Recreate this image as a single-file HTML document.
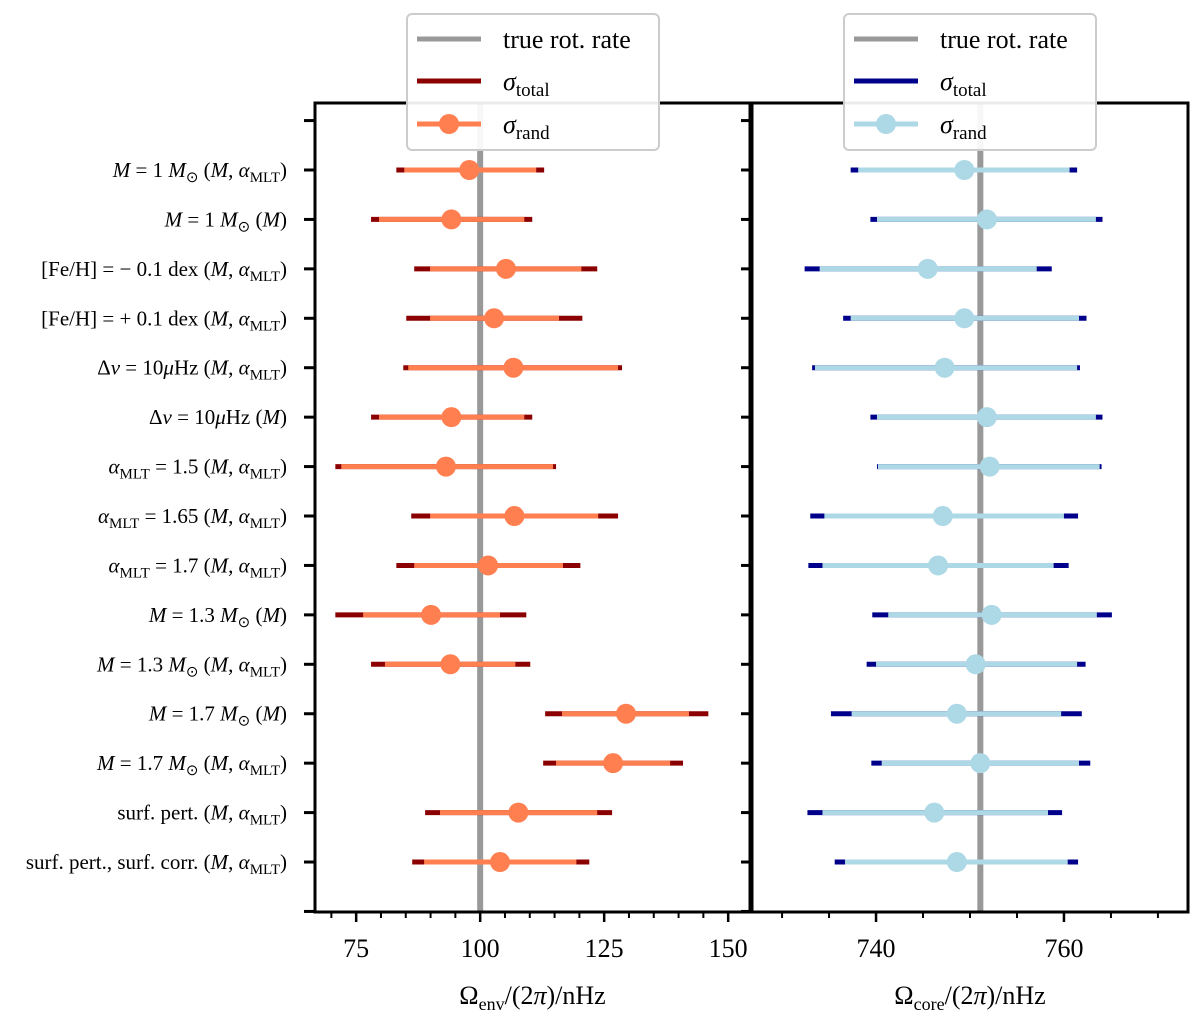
<!DOCTYPE html>
<html><head><meta charset="utf-8"><style>
body{margin:0;background:#fff}
svg text{font-family:"Liberation Serif",serif;fill:#000}
</style></head><body>
<svg id="c" width="1200" height="1021" xmlns="http://www.w3.org/2000/svg"></svg>
<script>
const labels=[
 ['<tspan font-style="italic">M</tspan> = 1 <tspan font-style="italic">M</tspan><tspan font-size="15" dy="5">⊙</tspan><tspan dy="-5"> (</tspan><tspan font-style="italic">M</tspan>, <tspan font-style="italic">α</tspan><tspan font-size="15" dy="5">MLT</tspan><tspan dy="-5">)</tspan>'],
 ['<tspan font-style="italic">M</tspan> = 1 <tspan font-style="italic">M</tspan><tspan font-size="15" dy="5">⊙</tspan><tspan dy="-5"> (</tspan><tspan font-style="italic">M</tspan>)'],
 ['[Fe/H] = − 0.1 dex (<tspan font-style="italic">M</tspan>, <tspan font-style="italic">α</tspan><tspan font-size="15" dy="5">MLT</tspan><tspan dy="-5">)</tspan>'],
 ['[Fe/H] = + 0.1 dex (<tspan font-style="italic">M</tspan>, <tspan font-style="italic">α</tspan><tspan font-size="15" dy="5">MLT</tspan><tspan dy="-5">)</tspan>'],
 ['Δ<tspan font-style="italic">ν</tspan> = 10<tspan font-style="italic">μ</tspan>Hz (<tspan font-style="italic">M</tspan>, <tspan font-style="italic">α</tspan><tspan font-size="15" dy="5">MLT</tspan><tspan dy="-5">)</tspan>'],
 ['Δ<tspan font-style="italic">ν</tspan> = 10<tspan font-style="italic">μ</tspan>Hz (<tspan font-style="italic">M</tspan>)'],
 ['<tspan font-style="italic">α</tspan><tspan font-size="15" dy="5">MLT</tspan><tspan dy="-5"> = 1.5 (</tspan><tspan font-style="italic">M</tspan>, <tspan font-style="italic">α</tspan><tspan font-size="15" dy="5">MLT</tspan><tspan dy="-5">)</tspan>'],
 ['<tspan font-style="italic">α</tspan><tspan font-size="15" dy="5">MLT</tspan><tspan dy="-5"> = 1.65 (</tspan><tspan font-style="italic">M</tspan>, <tspan font-style="italic">α</tspan><tspan font-size="15" dy="5">MLT</tspan><tspan dy="-5">)</tspan>'],
 ['<tspan font-style="italic">α</tspan><tspan font-size="15" dy="5">MLT</tspan><tspan dy="-5"> = 1.7 (</tspan><tspan font-style="italic">M</tspan>, <tspan font-style="italic">α</tspan><tspan font-size="15" dy="5">MLT</tspan><tspan dy="-5">)</tspan>'],
 ['<tspan font-style="italic">M</tspan> = 1.3 <tspan font-style="italic">M</tspan><tspan font-size="15" dy="5">⊙</tspan><tspan dy="-5"> (</tspan><tspan font-style="italic">M</tspan>)'],
 ['<tspan font-style="italic">M</tspan> = 1.3 <tspan font-style="italic">M</tspan><tspan font-size="15" dy="5">⊙</tspan><tspan dy="-5"> (</tspan><tspan font-style="italic">M</tspan>, <tspan font-style="italic">α</tspan><tspan font-size="15" dy="5">MLT</tspan><tspan dy="-5">)</tspan>'],
 ['<tspan font-style="italic">M</tspan> = 1.7 <tspan font-style="italic">M</tspan><tspan font-size="15" dy="5">⊙</tspan><tspan dy="-5"> (</tspan><tspan font-style="italic">M</tspan>)'],
 ['<tspan font-style="italic">M</tspan> = 1.7 <tspan font-style="italic">M</tspan><tspan font-size="15" dy="5">⊙</tspan><tspan dy="-5"> (</tspan><tspan font-style="italic">M</tspan>, <tspan font-style="italic">α</tspan><tspan font-size="15" dy="5">MLT</tspan><tspan dy="-5">)</tspan>'],
 ['surf. pert. (<tspan font-style="italic">M</tspan>, <tspan font-style="italic">α</tspan><tspan font-size="15" dy="5">MLT</tspan><tspan dy="-5">)</tspan>'],
 ['surf. pert., surf. corr. (<tspan font-style="italic">M</tspan>, <tspan font-style="italic">α</tspan><tspan font-size="15" dy="5">MLT</tspan><tspan dy="-5">)</tspan>']
];
const envCenter=[97.8,94.2,105.2,102.8,106.7,94.2,93.1,106.9,101.6,90.1,94.0,129.4,126.8,107.7,104.0];
const envTotLo=[83.1,78.0,86.7,85.1,84.5,78.0,70.8,86.1,83.1,70.8,78.0,113.1,112.7,88.9,86.3];
const envTotHi=[112.9,110.5,123.6,120.6,128.6,110.5,115.3,127.8,120.2,109.3,110.1,146.0,140.9,126.6,122.0];
const envRandLo=[84.7,79.6,89.9,89.9,85.5,79.6,72.0,89.9,86.7,76.4,80.8,116.5,115.3,91.9,88.7];
const envRandHi=[111.3,108.9,120.4,115.9,127.8,108.9,114.7,123.8,116.7,104.0,107.1,142.1,138.3,123.6,119.4];
const coreCenter=[749.4,751.8,745.5,749.4,747.3,751.8,752.1,747.1,746.6,752.3,750.6,748.6,751.1,746.2,748.6];
const coreTotLo=[737.3,739.4,732.4,736.5,733.2,739.4,740.1,733.0,732.8,739.6,739.0,735.2,739.5,732.7,735.6];
const coreTotHi=[761.4,764.1,758.7,762.4,761.7,764.1,764.0,761.5,760.5,765.1,762.3,761.9,762.8,759.8,761.5];
const coreRandLo=[738.1,740.1,734.0,737.3,733.5,740.1,740.2,734.5,734.3,741.3,740.0,737.4,740.6,734.3,736.7];
const coreRandHi=[760.6,763.4,757.1,761.6,761.4,763.4,763.8,760.0,758.9,763.5,761.4,759.7,761.6,758.3,760.4];
const envTicks=[75,100,125,150];
const coreTicks=[740,760];
const envTrue=100, coreTrue=751.1;

const svg=document.getElementById('c');
const NS='http://www.w3.org/2000/svg';
function el(tag,attrs,parent){const e=document.createElementNS(NS,tag);for(const k in attrs)e.setAttribute(k,attrs[k]);(parent||svg).appendChild(e);return e;}
const yScale=i=>170+i*49.43;
function panel(name,x0,x1,dmin,dmax,center,tlo,thi,rlo,rhi,ticks,minorStep,trueV,cTot,cRand,xlab){
  const g=el('g',{});
  
  
  const xs=v=>x0+(v-dmin)/(dmax-dmin)*(x1-x0);
  const tl=el('line',{x1:xs(trueV),x2:xs(trueV),y1:103,y2:912,stroke:'#999',"stroke-width":6},g);
  
  
  for(let i=0;i<center.length;i++){
    const y=yScale(i);
    const a=el('line',{x1:xs(tlo[i]),x2:xs(thi[i]),y1:y,y2:y,stroke:cTot,"stroke-width":5},g);
    
    
    const b=el('line',{x1:xs(rlo[i]),x2:xs(rhi[i]),y1:y,y2:y,stroke:cRand,"stroke-width":5},g);
    
    
    const c=el('circle',{cx:xs(center[i]),cy:y,r:10,fill:cRand},g);
    
    
  }
  el('rect',{x:x0,y:103,width:x1-x0,height:809,fill:'none',stroke:'#000',"stroke-width":3},g);
  for(let i=-1;i<=15;i++){const y=yScale(i);el('line',{x1:x0-11,x2:x0,y1:y,y2:y,stroke:'#000',"stroke-width":3},g);}
  for(let v=Math.ceil(dmin/minorStep)*minorStep;v<=dmax;v+=minorStep){
    const major=ticks.includes(v);const L=major?10:6;const x=xs(v);
    el('line',{x1:x,x2:x,y1:912,y2:912+L,stroke:'#000',"stroke-width":major?2.5:2},g);
  }
  ticks.forEach(v=>{const t=el('text',{x:xs(v),y:957,"font-size":26,"text-anchor":"middle"},g);t.textContent=v;
    });
  const xl=el('text',{x:(x0+x1)/2,y:1004,"font-size":26,"text-anchor":"middle"},g);
  xl.innerHTML=xlab;
  
  
  return xs;
}
panel('env',315,750,66.7,154.4,envCenter,envTotLo,envTotHi,envRandLo,envRandHi,envTicks,5,envTrue,'#8b0000','#ff7f50','Ω<tspan font-size="18" dy="6">env</tspan><tspan dy="-6">/(2</tspan><tspan font-style="italic">π</tspan>)/nHz');
panel('core',752,1188,726.8,773.2,coreCenter,coreTotLo,coreTotHi,coreRandLo,coreRandHi,coreTicks,5,coreTrue,'#00008b','#add8e6','Ω<tspan font-size="18" dy="6">core</tspan><tspan dy="-6">/(2</tspan><tspan font-style="italic">π</tspan>)/nHz');
labels.forEach((l,i)=>{const t=el('text',{x:287,y:yScale(i)+7,"font-size":21,"text-anchor":"end"});t.innerHTML=l[0];
  });
function legend(name,x,cTot,cRand){
  const g=el('g',{});
  
  
  el('rect',{x:x,y:14,width:252,height:136,rx:5,fill:'rgba(255,255,255,0.92)',stroke:'#ccc',"stroke-width":2},g);
  el('line',{x1:x+10,x2:x+74,y1:39,y2:39,stroke:'#999',"stroke-width":5},g);
  el('line',{x1:x+10,x2:x+74,y1:81,y2:81,stroke:cTot,"stroke-width":5},g);
  el('line',{x1:x+10,x2:x+74,y1:124,y2:124,stroke:cRand,"stroke-width":5},g);
  el('circle',{cx:x+42,cy:124,r:10,fill:cRand},g);
  const t1=el('text',{x:x+96,y:48,"font-size":26},g);t1.textContent='true rot. rate';
  const t2=el('text',{x:x+96,y:90,"font-size":26},g);t2.innerHTML='<tspan font-style="italic">σ</tspan><tspan font-size="19" dy="6">total</tspan>';
  const t3=el('text',{x:x+96,y:133,"font-size":26},g);t3.innerHTML='<tspan font-style="italic">σ</tspan><tspan font-size="19" dy="6">rand</tspan>';
}
legend('env',407,'#8b0000','#ff7f50');
legend('core',844,'#00008b','#add8e6');
</script>
</body></html>
